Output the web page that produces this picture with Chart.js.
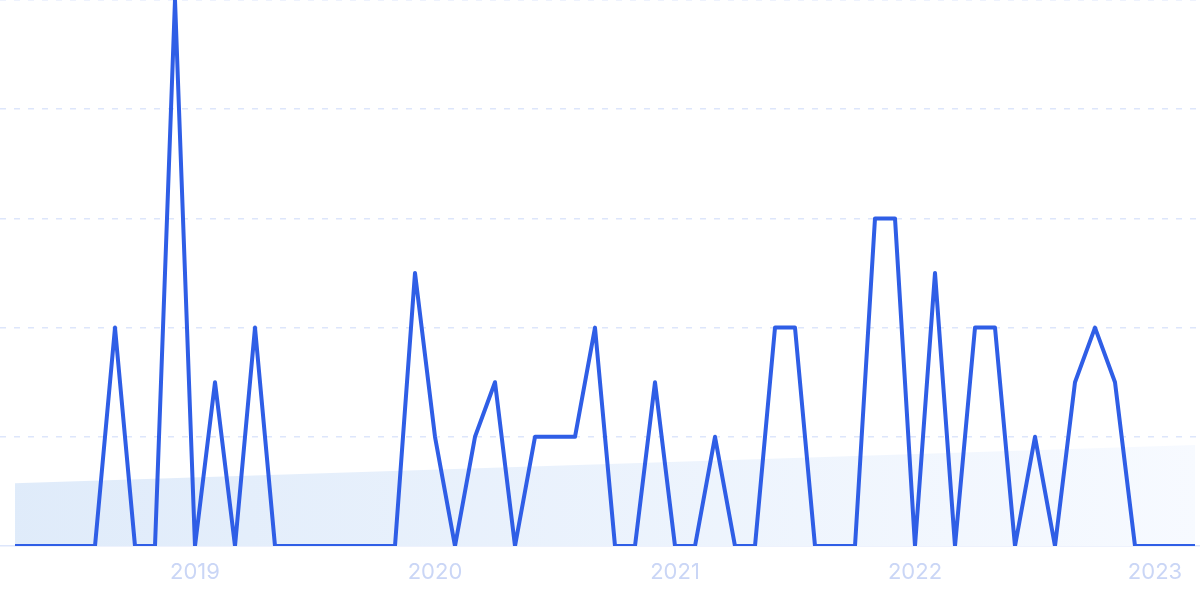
<!DOCTYPE html>
<html>
<head>
<meta charset="utf-8">
<script src="https://cdn.jsdelivr.net/npm/chart.js@4/dist/chart.umd.min.js"></script>
<style>
  html, body { margin: 0; padding: 0; background: #ffffff; }
  #wrap { width: 1200px; height: 599px; position: relative; }
</style>
</head>
<body>
<div id="wrap"><canvas id="trend_chart"></canvas></div>
<script>
// -------------------------------
// Data (monthly, Apr 2018 - Mar 2023)
// -------------------------------
const monthValues = [
  0, 0, 0, 0, 0, 4, 0, 0, 10, 0, 3, 0,
  4, 0, 0, 0, 0, 0, 0, 0, 5, 2, 0, 2,
  3, 0, 2, 2, 2, 4, 0, 0, 3, 0, 0, 2,
  0, 0, 4, 4, 0, 0, 0, 6, 6, 0, 5, 0,
  4, 4, 0, 2, 0, 3, 4, 3, 0, 0, 0, 0
];

// Trend band (start / end of the shaded area)
const trendIndex = [0, 59];
const trendValues = [1.15, 1.85];

// Year ticks: index of January in each year
const yearTickIndex = [9, 21, 33, 45, 57];
const yearTickLabels = ["2019", "2020", "2021", "2022", "2023"];

const LINE_BLUE = "#2f5ee6";
const GRID_BLUE = "#dde6fb";
const LABEL_BLUE = "#cad6f6";

// -------------------------------
// Build chart
// -------------------------------
const ctx = document.getElementById("trend_chart");

new Chart(ctx, {
  type: "line",
  data: {
    datasets: [
      {
        label: "Searches",
        data: monthValues.map((v, i) => ({ x: i, y: v })),
        borderColor: LINE_BLUE,
        borderWidth: 4,
        borderJoinStyle: "round",
        pointRadius: 0,
        tension: 0,
        fill: false,
        order: 0,
      },
      {
        label: "Trend",
        data: trendIndex.map((x, i) => ({ x, y: trendValues[i] })),
        borderWidth: 0,
        pointRadius: 0,
        fill: "origin",
        order: 1,
        backgroundColor: (c) => {
          const area = c.chart.chartArea;
          if (!area) return "rgba(220,233,250,0.8)";
          const g = c.chart.ctx.createLinearGradient(area.left, 0, area.right, 0);
          g.addColorStop(0, "rgba(223,235,250,1)");
          g.addColorStop(1, "rgba(247,250,255,1)");
          return g;
        },
      },
    ],
  },
  options: {
    responsive: true,
    maintainAspectRatio: false,
    animation: false,
    layout: { padding: 0 },
    plugins: {
      legend: { display: false },
      tooltip: { enabled: false },
    },
    scales: {
      x: {
        type: "linear",
        min: -0.75,
        max: 59.25,
        afterBuildTicks: (scale) => {
          scale.ticks = yearTickIndex.map((v) => ({ value: v }));
        },
        afterFit: (scale) => {
          scale.height = 53;
        },
        ticks: {
          autoSkip: false,
          maxRotation: 0,
          padding: 13,
          color: LABEL_BLUE,
          font: { family: "Inter", size: 22 },
          callback: (value) => {
            const k = yearTickIndex.indexOf(value);
            return k >= 0 ? yearTickLabels[k] : "";
          },
        },
        grid: { display: false, drawTicks: false },
        border: { display: true, color: GRID_BLUE, width: 1.5 },
      },
      y: {
        min: 0,
        max: 10,
        afterFit: (scale) => {
          scale.width = 0;
        },
        ticks: { display: false, stepSize: 2 },
        grid: {
          color: (c) => (c.tick.value === 0 ? "rgba(0,0,0,0)" : GRID_BLUE),
          lineWidth: 1.5,
          drawTicks: false,
        },
        border: { display: false, dash: [6, 8] },
      },
    },
  },
});
</script>
</body>
</html>
